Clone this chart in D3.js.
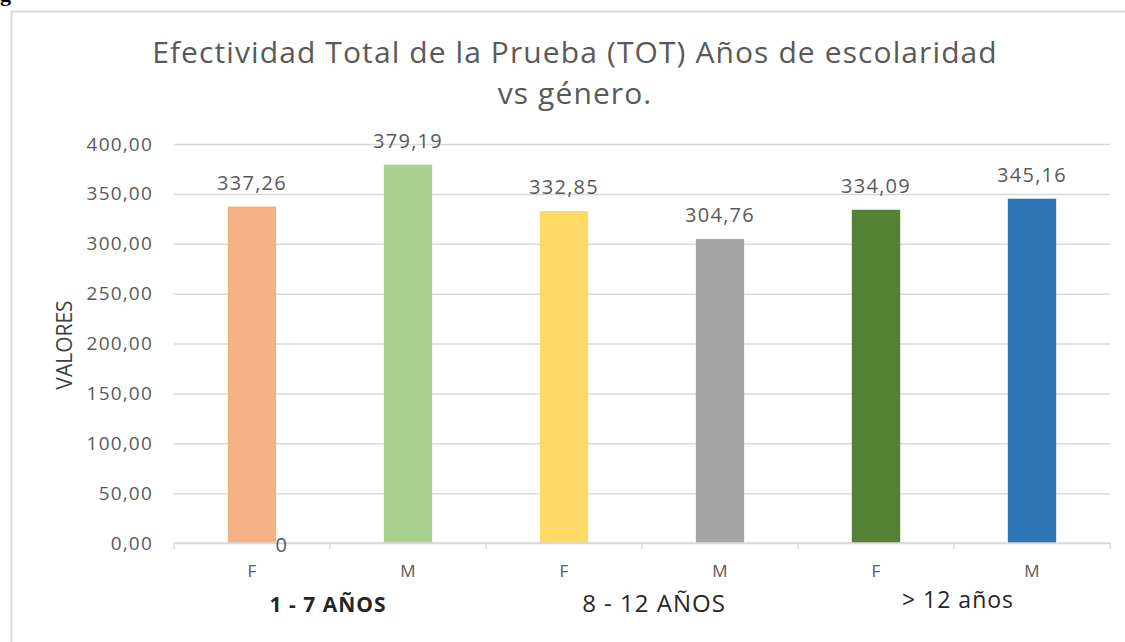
<!DOCTYPE html>
<html>
<head>
<meta charset="utf-8">
<script src="https://cdn.jsdelivr.net/npm/d3@7"></script>
<style>
  html, body { margin: 0; padding: 0; background: #fff; }
  svg { display: block; }
</style>
</head>
<body>
<svg id="chart" width="1125" height="642"></svg>
<script>
// ---- data ----
const categories = ["1 - 7 AÑOS|F", "1 - 7 AÑOS|M", "8 - 12 AÑOS|F", "8 - 12 AÑOS|M", "> 12 años|F", "> 12 años|M"];
const genders = ["F", "M", "F", "M", "F", "M"];
const values = [337.26, 379.19, 332.85, 304.76, 334.09, 345.16];
const valueLabels = ["337,26", "379,19", "332,85", "304,76", "334,09", "345,16"];
const groups = ["1 - 7 AÑOS", "8 - 12 AÑOS", "> 12 años"];
const yTicks = [0, 50, 100, 150, 200, 250, 300, 350, 400];
const colors = ["#F4B183", "#A9D18E", "#FFD966", "#A5A5A5", "#548235", "#2E75B6"];
const titleLines = ["Efectividad Total de la Prueba (TOT) Años de escolaridad", "vs género."];
const yTitle = "VALORES";

// ---- layout ----
const svg = d3.select("#chart");
const font = "'Open Sans', sans-serif";
const m = { left: 174, right: 1110, top: 144, bottom: 543 };

const x = d3.scaleBand().domain(categories).range([m.left, m.right]).paddingInner(0.69).paddingOuter(0.345);
const y = d3.scaleLinear().domain([0, 400]).range([m.bottom, m.top]);

// frame
svg.append("path")
  .attr("d", `M11.5,642 L11.5,11.5 L1125,11.5`)
  .attr("fill", "none").attr("stroke", "#d9d9d9").attr("stroke-width", 2);

// cut-off heading glyph at top-left
svg.append("text").attr("x", 0).attr("y", 1)
  .attr("font-family", "'Liberation Serif', serif").attr("font-weight", "bold")
  .attr("font-size", 22).attr("fill", "#000").text("g");

// title
svg.append("text")
  .attr("text-anchor", "middle")
  .attr("font-family", font).attr("font-size", 30).attr("letter-spacing", 1.1).attr("fill", "#595959")
  .selectAll("tspan").data(titleLines).join("tspan")
  .attr("x", 575).attr("y", (d, i) => 63 + i * 41).text(d => d);

// gridlines + y tick labels
const yAxis = d3.axisLeft(y).tickValues(yTicks).tickSize(-(m.right - m.left)).tickPadding(21)
  .tickFormat(d => d3.format(".2f")(d).replace(".", ","));
const gy = svg.append("g").attr("transform", `translate(${m.left},0)`).call(yAxis);
gy.select(".domain").remove();
gy.selectAll(".tick line").attr("stroke", "#d9d9d9").attr("stroke-width", 1.5);
gy.selectAll(".tick text").attr("font-family", font).attr("font-size", 19).attr("letter-spacing", 1.2).attr("fill", "#595959");

// bars
svg.append("g").selectAll("rect").data(values).join("rect")
  .attr("x", (d, i) => x(categories[i]))
  .attr("width", x.bandwidth())
  .attr("y", d => y(d))
  .attr("height", d => y(0) - y(d))
  .attr("fill", (d, i) => colors[i]);

// x axis (category ticks at band boundaries)
const xAxisLine = svg.append("g").attr("transform", `translate(0,${y(0)})`);
xAxisLine.append("line").attr("x1", m.left).attr("x2", m.right).attr("stroke", "#d9d9d9").attr("stroke-width", 1.5);
const step = x.step();
const boundaries = d3.range(categories.length + 1).map(i => m.left + i * step);
xAxisLine.selectAll("line.tk").data(boundaries).join("line").attr("class", "tk")
  .attr("x1", d => d).attr("x2", d => d).attr("y1", 0).attr("y2", 6)
  .attr("stroke", "#d9d9d9").attr("stroke-width", 1.5);

// gender labels
svg.append("g").selectAll("text").data(categories).join("text")
  .attr("x", d => x(d) + x.bandwidth() / 2)
  .attr("y", 577)
  .attr("text-anchor", "middle")
  .attr("font-family", font).attr("font-size", 17).attr("fill", "#595959")
  .text((d, i) => genders[i]);

// group labels
const groupStyles = [
  { weight: "bold", size: 21, ls: 1, dx: -2, y: 612 },
  { weight: "normal", size: 24, ls: 1, dx: 12, y: 612 },
  { weight: "normal", size: 23, ls: 1, dx: 4, y: 608 }
];
svg.append("g").selectAll("text").data(groups).join("text")
  .attr("x", (g, i) => (x(categories[i * 2]) + x(categories[i * 2 + 1]) + x.bandwidth()) / 2 + groupStyles[i].dx)
  .attr("y", (g, i) => groupStyles[i].y)
  .attr("text-anchor", "middle")
  .attr("font-family", font)
  .attr("font-weight", (g, i) => groupStyles[i].weight)
  .attr("font-size", (g, i) => groupStyles[i].size)
  .attr("letter-spacing", (g, i) => groupStyles[i].ls)
  .attr("fill", "#262626")
  .text(d => d);

// value labels
svg.append("g").selectAll("text").data(values).join("text")
  .attr("x", (d, i) => x(categories[i]) + x.bandwidth() / 2)
  .attr("y", d => y(d) - 17)
  .attr("text-anchor", "middle")
  .attr("font-family", font).attr("font-size", 20).attr("letter-spacing", 1.3).attr("fill", "#595959")
  .text((d, i) => valueLabels[i]);

// stray "0" label
svg.append("text")
  .attr("x", x(categories[0]) + x.bandwidth() + 5)
  .attr("y", y(0) + 9)
  .attr("text-anchor", "middle")
  .attr("font-family", font).attr("font-size", 20).attr("fill", "#595959")
  .text("0");

// y axis title
svg.append("text")
  .attr("transform", `translate(72,345) rotate(-90)`)
  .attr("text-anchor", "middle")
  .attr("font-family", font).attr("font-size", 21).attr("fill", "#404040")
  .text(yTitle);
</script>
</body>
</html>
